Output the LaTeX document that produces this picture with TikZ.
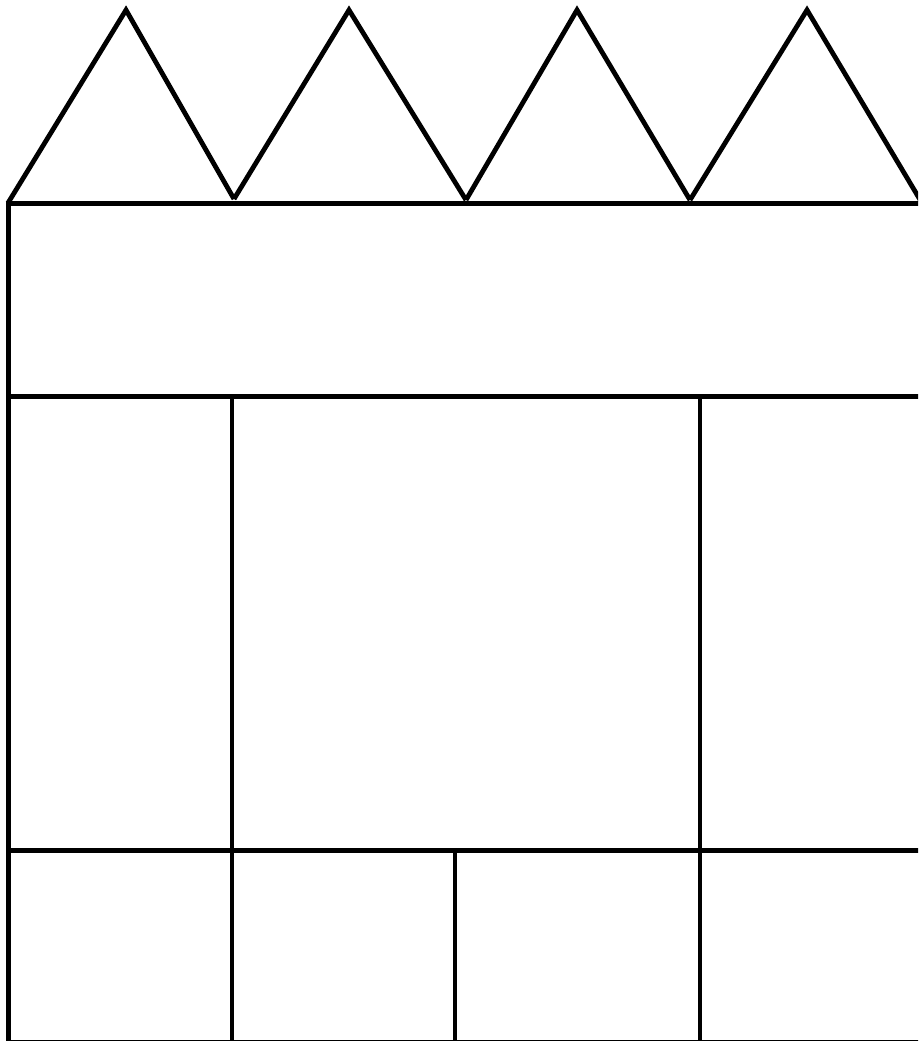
\documentclass[tikz,border=0pt]{standalone}
\begin{document}
\begin{tikzpicture}[x=1pt,y=-1pt,wall/.style={line width=4.8pt,line join=miter,line cap=butt}]
\useasboundingbox (0,0) rectangle (918,1041);
\clip (0,0) rectangle (918,1041);
\fill[white] (0,0) rectangle (918,1041);
% triangles (roof)
\draw[wall] (8,203) -- (126,10) -- (234,199);
\draw[wall] (234,199) -- (349,10) -- (466,200);
\draw[wall] (466,200) -- (577,10) -- (690,200);
\draw[wall] (690,200) -- (807,10) -- (922,203);
% top band
\draw[wall] (8.5,1045) -- (8.5,203.5) -- (925,203.5);
\draw[wall] (6,396.5) -- (925,396.5);
% middle verticals
\draw[wall] (232,396.5) -- (232,1045);
\draw[wall] (700,396.5) -- (700,1045);
% lower band
\draw[wall] (6,850.5) -- (925,850.5);
\draw[wall] (455,850.5) -- (455,1045);
% bottom edge
\draw[wall] (6,1042) -- (925,1042);
\end{tikzpicture}
\end{document}
